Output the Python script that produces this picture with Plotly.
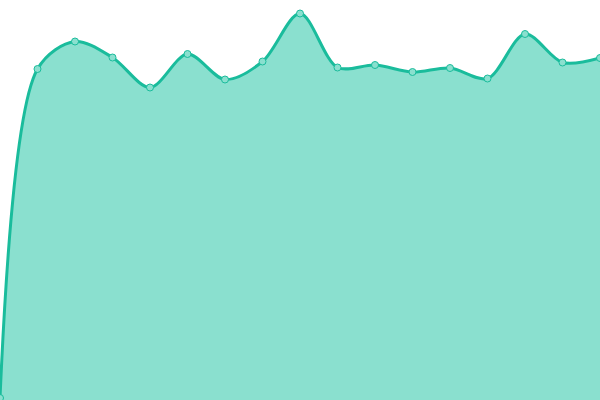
import plotly.graph_objects as go

# Sample data
steps = list(range(17))
values = [2, 331, 358.5, 342.5, 312.5, 346, 320.5, 338.5, 386.5, 332.5, 335, 328, 332, 321.5, 366, 337.5, 342]

fig = go.Figure(
    go.Scatter(
        x=steps,
        y=values,
        mode="lines+markers",
        line=dict(color="#1abc9c", width=3, shape="spline", smoothing=0.9),
        marker=dict(size=7, color="#8ae0cf", line=dict(color="#1abc9c", width=1)),
        fill="tozeroy",
        fillcolor="#8ae0cf",
        cliponaxis=False,
    )
)

fig.update_layout(
    width=600,
    height=400,
    margin=dict(l=0, r=0, t=0, b=0),
    paper_bgcolor="white",
    plot_bgcolor="white",
    showlegend=False,
    xaxis=dict(visible=False, range=[0, 16]),
    yaxis=dict(visible=False, range=[0, 400]),
)

# drop the page margin so the chart sits flush in the window
fig.write_html(
    "out.html",
    config={"displayModeBar": False},
    post_script="document.body.style.margin='0';",
)
